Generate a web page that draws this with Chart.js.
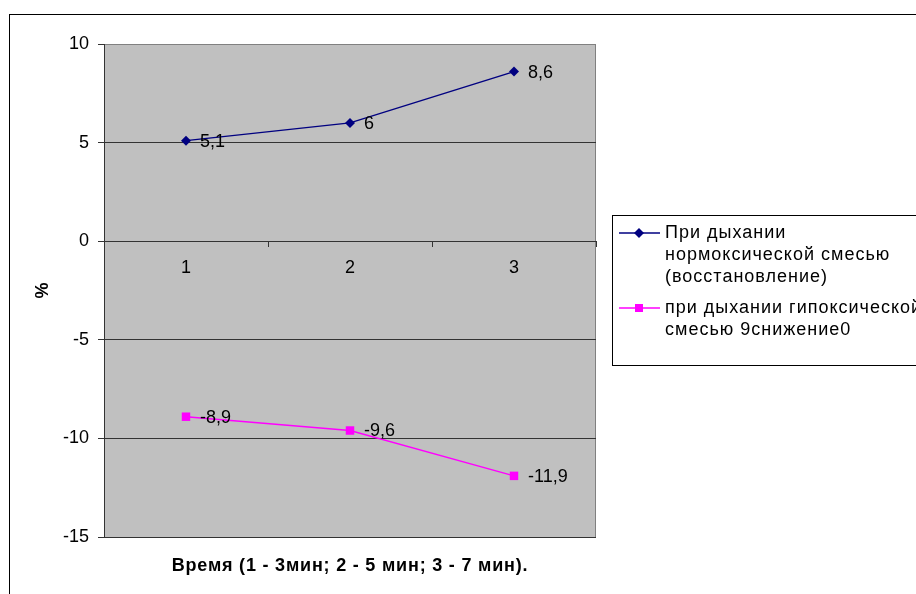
<!DOCTYPE html>
<html>
<head>
<meta charset="utf-8">
<script src="https://cdn.jsdelivr.net/npm/chart.js@4"></script>
<style>
  html, body { margin: 0; padding: 0; background: #fff; }
  #wrap { width: 916px; height: 594px; }
</style>
</head>
<body>
<div id="wrap"><canvas id="chart" width="916" height="594"></canvas></div>
<script>
const categories = ['1', '2', '3'];
const normoxia = [5.1, 6, 8.6];
const hypoxia = [-8.9, -9.6, -11.9];
const seriesNames = [
    ['При дыхании', 'нормоксической смесью', '(восстановление)'],
    ['при дыхании гипоксической', 'смесью 9снижение0']
];
const yTicks = [-15, -10, -5, 0, 5, 10];
const xTitle = 'Время (1 - 3мин; 2 - 5 мин; 3 - 7 мин).';
const yTitle = '%';

const FONT = '"Liberation Sans", Arial, sans-serif';
Chart.defaults.font.family = FONT;
Chart.defaults.font.size = 18;
Chart.defaults.color = '#000';

const plotBackground = {
    id: 'plotBackground',
    beforeDraw(chart) {
        const { ctx, chartArea: a } = chart;
        ctx.save();
        // outer chart border, runs off the right and bottom edges
        ctx.strokeStyle = '#000';
        ctx.lineWidth = 1;
        ctx.strokeRect(9.5, 14.5, 1000, 1000);
        ctx.fillStyle = '#c0c0c0';
        ctx.fillRect(a.left, a.top, a.right - a.left, a.bottom - a.top);
        ctx.strokeStyle = '#808080';
        ctx.strokeRect(a.left + 0.5, a.top + 0.5, a.right - a.left - 1, a.bottom - a.top);
        ctx.restore();
    }
};

const pointLabels = {
    id: 'pointLabels',
    afterDatasetsDraw(chart) {
        const { ctx } = chart;
        ctx.save();
        ctx.font = '18px ' + FONT;
        ctx.fillStyle = '#000';
        ctx.textAlign = 'left';
        ctx.textBaseline = 'middle';
        chart.data.datasets.forEach((ds, i) => {
            chart.getDatasetMeta(i).data.forEach((pt, j) => {
                ctx.fillText(String(ds.data[j]).replace('.', ','), pt.x + 14, pt.y + 1);
            });
        });
        ctx.restore();
    }
};

// x title drawn by hand so it can get the wider letter spacing of the original
const bottomTitle = {
    id: 'bottomTitle',
    afterDraw(chart) {
        const { ctx, chartArea: a } = chart;
        ctx.save();
        ctx.font = 'bold 18px ' + FONT;
        ctx.letterSpacing = '0.8px';
        ctx.fillStyle = '#000';
        ctx.textAlign = 'center';
        ctx.textBaseline = 'middle';
        ctx.fillText(xTitle, (a.left + a.right) / 2, 566);
        ctx.restore();
    }
};

const sideLegend = {
    id: 'sideLegend',
    afterDraw(chart) {
        const { ctx } = chart;
        ctx.save();
        ctx.fillStyle = '#fff';
        ctx.fillRect(612, 215, 400, 151);
        ctx.strokeStyle = '#000';
        ctx.lineWidth = 1;
        ctx.strokeRect(612.5, 215.5, 400, 150);
        ctx.font = '18px ' + FONT;
        ctx.letterSpacing = '1px';
        ctx.textBaseline = 'middle';
        ctx.textAlign = 'left';
        const starts = [233, 308];
        chart.data.datasets.forEach((ds, i) => {
            const y = starts[i];
            ctx.strokeStyle = ds.borderColor;
            ctx.lineWidth = 1.5;
            ctx.beginPath();
            ctx.moveTo(619, y);
            ctx.lineTo(660, y);
            ctx.stroke();
            ctx.fillStyle = ds.backgroundColor;
            ctx.beginPath();
            if (ds.pointStyle === 'rectRot') {
                ctx.moveTo(639, y - 5); ctx.lineTo(644, y); ctx.lineTo(639, y + 5); ctx.lineTo(634, y);
            } else {
                ctx.rect(635, y - 4, 8, 8);
            }
            ctx.closePath();
            ctx.fill();
            ctx.fillStyle = '#000';
            seriesNames[i].forEach((line, k) => ctx.fillText(line, 665, y + k * 22));
        });
        ctx.restore();
    }
};

new Chart(document.getElementById('chart'), {
    type: 'line',
    data: {
        labels: categories,
        datasets: [
            {
                label: seriesNames[0].join(' '),
                data: normoxia,
                borderColor: '#000080',
                backgroundColor: '#000080',
                borderWidth: 1.5,
                pointStyle: 'rectRot',
                pointRadius: 5,
                pointBorderWidth: 0,
                tension: 0
            },
            {
                label: seriesNames[1].join(' '),
                data: hypoxia,
                borderColor: '#ff00ff',
                backgroundColor: '#ff00ff',
                borderWidth: 1.5,
                pointStyle: 'rect',
                pointRadius: 6,
                pointBorderWidth: 0,
                tension: 0
            }
        ]
    },
    options: {
        responsive: false,
        animation: false,
        layout: { padding: { top: 44, right: 320, bottom: 57, left: 0 } },
        plugins: { legend: { display: false }, tooltip: { enabled: false } },
        scales: {
            x: {
                type: 'category',
                position: { y: 0 },
                offset: true,
                grid: { display: true, offset: true, drawOnChartArea: false, drawTicks: true, tickLength: 5, color: '#333' },
                border: { display: true, color: '#333' },
                ticks: { padding: 11, color: '#000', font: { size: 18 } }
            },
            y: {
                min: yTicks[0],
                max: yTicks[yTicks.length - 1],
                afterBuildTicks(scale) { scale.ticks = yTicks.map(v => ({ value: v })); },
                grid: {
                    color: ctx => (ctx.tick && ctx.tick.value === 10 ? '#808080' : '#333'),
                    tickColor: '#333',
                    tickLength: 6
                },
                border: { display: true, color: '#333' },
                ticks: { padding: 9, color: '#000', font: { size: 18 } },
                title: { display: true, text: yTitle, font: { size: 18, weight: 'bold' }, padding: { top: 32, bottom: 0 } },
                afterFit(scale) { scale.width = 104; }
            }
        }
    },
    plugins: [plotBackground, pointLabels, bottomTitle, sideLegend]
});
</script>
</body>
</html>
